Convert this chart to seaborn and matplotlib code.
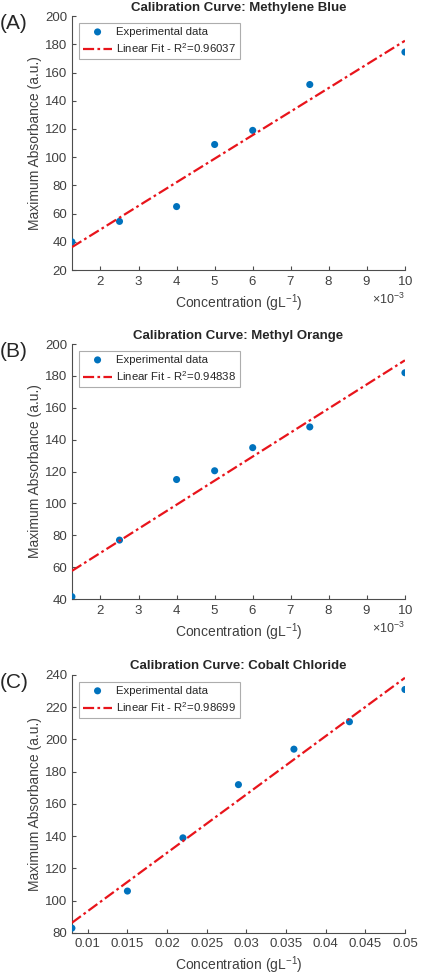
"""
Calibration curves for three dyes (MATLAB-style panels)
"""

import numpy as np
import matplotlib
matplotlib.use('Agg')
import matplotlib.pyplot as plt
import seaborn as sns
from matplotlib.ticker import MultipleLocator

# Data
conc_mb = [1.25e-3, 2.5e-3, 4e-3, 5e-3, 6e-3, 7.5e-3, 10e-3]
abs_mb = [40, 54.5, 65, 109, 119, 151.5, 174.5]

conc_mo = [1.25e-3, 2.5e-3, 4e-3, 5e-3, 6e-3, 7.5e-3, 10e-3]
abs_mo = [41.5, 77, 115, 120.5, 135, 148, 182]

conc_co = [0.008, 0.015, 0.022, 0.029, 0.036, 0.043, 0.05]
abs_co = [83, 106, 139, 172, 194, 211, 231]

titles = ['Calibration Curve: Methylene Blue',
          'Calibration Curve: Methyl Orange',
          'Calibration Curve: Cobalt Chloride']
r2_labels = ['0.96037', '0.94838', '0.98699']
panel_labels = ['(A)', '(B)', '(C)']
ylims = [(20, 200), (40, 200), (80, 240)]

sns.set_style('ticks')
plt.rcParams['font.family'] = ['Liberation Sans', 'DejaVu Sans']
plt.rcParams['mathtext.fontset'] = 'custom'
plt.rcParams['mathtext.rm'] = 'Liberation Sans'

AX_COLOR = '#4d4d4d'
BLUE = '#0072BD'
RED = '#E8141B'

fig = plt.figure(figsize=(4.44, 9.75), dpi=100)

# axes rectangles in figure fraction
rects = [
    [0.162, 0.723, 0.750, 0.2605],
    [0.162, 0.3856, 0.750, 0.2615],
    [0.162, 0.0431, 0.750, 0.2646],
]

datasets = [(conc_mb, abs_mb), (conc_mo, abs_mo), (conc_co, abs_co)]

for i, ((x, y), rect) in enumerate(zip(datasets, rects)):
    ax = fig.add_axes(rect)
    x = np.array(x)
    y = np.array(y)
    slope, intercept = np.polyfit(x, y, 1)
    xfit = np.array([x.min(), x.max()])
    yfit = slope * xfit + intercept

    sns.scatterplot(x=x, y=y, ax=ax, color=BLUE, s=26, edgecolor='none',
                    label='Experimental data', zorder=3)
    sns.lineplot(x=xfit, y=yfit, ax=ax, color=RED, linewidth=1.6,
                 linestyle=(0, (5, 1.5, 1.2, 1.5)),
                 label=f'Linear Fit - R$^{{2}}$={r2_labels[i]}', zorder=4)

    ax.set_xlim(x.min(), x.max())
    ax.set_ylim(*ylims[i])
    ax.yaxis.set_major_locator(MultipleLocator(20))
    if i < 2:
        ax.xaxis.set_major_locator(MultipleLocator(1e-3))
        ax.ticklabel_format(axis='x', style='sci', scilimits=(0, 0),
                            useMathText=True)
        ax.xaxis.get_offset_text().set_fontsize(9)
        ax.xaxis.get_offset_text().set_color(AX_COLOR)
    else:
        ax.set_xticks(np.arange(0.01, 0.0501, 0.005))
        ax.set_xticklabels(['0.01', '0.015', '0.02', '0.025', '0.03',
                            '0.035', '0.04', '0.045', '0.05'])

    sns.despine(ax=ax)
    for side in ['left', 'bottom']:
        ax.spines[side].set_color(AX_COLOR)
        ax.spines[side].set_linewidth(0.8)
    ax.tick_params(direction='in', length=3, width=0.8, colors=AX_COLOR,
                   labelsize=9.5, labelcolor='#404040')

    ax.set_xlabel('Concentration (gL$^{-1}$)', fontsize=10, color='#404040',
                  labelpad=3)
    ax.set_ylabel('Maximum Absorbance (a.u.)', fontsize=10, color='#404040',
                  labelpad=2)
    ax.set_title(titles[i], fontsize=9.5, fontweight='bold', pad=4)

    leg = ax.legend(loc='upper left', fontsize=8.2, fancybox=False,
                    frameon=True, borderpad=0.35, handlelength=2.6,
                    handletextpad=0.3, borderaxespad=0.6, labelspacing=0.35)
    leg.get_frame().set_edgecolor('#999999')
    leg.get_frame().set_linewidth(0.8)

    bbox = ax.get_position()
    fig.text(0.0, bbox.y1 + 0.002, panel_labels[i], fontsize=15,
             ha='left', va='top')

plt.savefig('out.png', dpi=100)
plt.close()
